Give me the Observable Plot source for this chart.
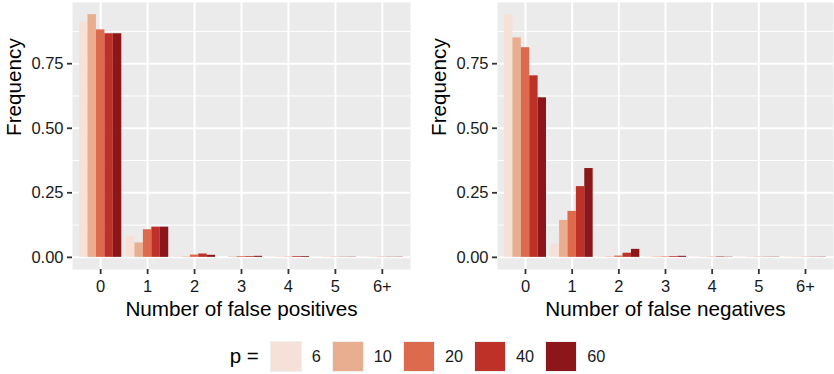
<!DOCTYPE html>
<html><head><meta charset="utf-8">
<script src="https://cdn.jsdelivr.net/npm/d3@7"></script>
<script src="https://cdn.jsdelivr.net/npm/@observablehq/plot@0.6"></script>
<style>
body{margin:0;background:#fff;font-family:"Liberation Sans",Arial,Helvetica,sans-serif;}
#charts{display:flex;height:330px;}
#legend{height:44px;padding-top:11px;box-sizing:border-box;}
#legend .row{display:flex;align-items:center;justify-content:center;height:30px;padding-left:12px;}
#legend .title{font-size:20.5px;margin-right:11px;line-height:20px;}
#legend .sw{width:30px;height:29px;border:1px solid #EFEFEF;margin-right:10px;}
#legend .lab{font-size:16.3px;margin-right:11px;line-height:16px;color:#1a1a1a;}
</style></head><body>
<div id="charts"></div>
<div id="legend"><div class="row"></div></div>
<script>
const categories = ["0", "1", "2", "3", "4", "5", "6+"];
const pValues = ["6", "10", "20", "40", "60"];
const colors = ["#F5E1D7", "#E9AE90", "#DE6A4E", "#BE3129", "#8C161A"];
const yTicks = [0, 0.25, 0.5, 0.75];
const yMinor = [0.125, 0.375, 0.625, 0.875];

// False positives: frequency per category, one array per p
const fpP6  = [0.910, 0.082, 0.005, 0.000, 0.001, 0.001, 0.001];
const fpP10 = [0.940, 0.056, 0.002, 0.002, 0.001, 0.001, 0.001];
const fpP20 = [0.881, 0.107, 0.009, 0.003, 0.001, 0.001, 0.001];
const fpP40 = [0.866, 0.117, 0.013, 0.003, 0.003, 0.001, 0.001];
const fpP60 = [0.866, 0.117, 0.008, 0.004, 0.003, 0.001, 0.001];

// False negatives
const fnP6  = [0.939, 0.052, 0.003, 0.002, 0.001, 0.001, 0.002];
const fnP10 = [0.850, 0.143, 0.002, 0.002, 0.001, 0.001, 0.001];
const fnP20 = [0.812, 0.178, 0.005, 0.002, 0.001, 0.001, 0.001];
const fnP40 = [0.703, 0.274, 0.016, 0.003, 0.002, 0.001, 0.001];
const fnP60 = [0.618, 0.344, 0.031, 0.004, 0.001, 0.001, 0.001];

const dodgeWidth = 0.9;
const barW = dodgeWidth / pValues.length;

function toRows(series) {
  return series.flatMap((vals, pi) => vals.map((v, ci) => ({ci, pi, p: pValues[pi], value: v})));
}

function panel(series, xTitle, width, marginRight) {
  const data = toRows(series);
  return Plot.plot({
    width, height: 330,
    marginTop: 2, marginBottom: 61, marginLeft: 72, marginRight,
    style: {fontFamily: '"Liberation Sans", Arial, sans-serif', background: "white"},
    x: {type: "linear", domain: [-0.6, categories.length - 0.4]},
    y: {domain: [-0.047, 0.987]},
    color: {domain: pValues, range: colors},
    marks: [
      Plot.frame({fill: "#EBEBEB", stroke: null}),
      Plot.gridY(yMinor, {stroke: "white", strokeOpacity: 1, strokeWidth: 1}),
      Plot.gridY(yTicks, {stroke: "white", strokeOpacity: 1, strokeWidth: 2}),
      Plot.gridX(d3.range(categories.length), {stroke: "white", strokeOpacity: 1, strokeWidth: 2}),
      Plot.rect(data, {
        x1: d => d.ci + (d.pi - (pValues.length - 1) / 2) * barW - barW / 2,
        x2: d => d.ci + (d.pi - (pValues.length - 1) / 2) * barW + barW / 2,
        y1: d => 0,
        y2: "value",
        fill: "p"
      }),
      Plot.axisY({ticks: yTicks, tickFormat: d3.format(".2f"), tickSize: 5, tickPadding: 4,
        fontSize: 16.5, stroke: "#333", fill: "#1a1a1a", strokeWidth: 1.8, label: null}),
      Plot.axisX({ticks: d3.range(categories.length), tickFormat: i => categories[i], tickSize: 5, tickPadding: 6,
        fontSize: 16.5, stroke: "#333", fill: "#1a1a1a", strokeWidth: 1.8, label: null}),
      Plot.text([xTitle], {frameAnchor: "bottom", dy: 46, fontSize: 20.7, fill: "black", lineAnchor: "bottom"}),
      Plot.text(["Frequency"], {frameAnchor: "left", rotate: -90, dx: -58, fontSize: 20.7, fill: "black"})
    ]
  });
}

const charts = document.getElementById("charts");
charts.append(panel([fpP6, fpP10, fpP20, fpP40, fpP60], "Number of false positives", 425, 15));
charts.append(panel([fnP6, fnP10, fnP20, fnP40, fnP60], "Number of false negatives", 409, 1));

const legend = d3.select("#legend .row");
legend.append("span").attr("class", "title").text("p =");
pValues.forEach((p, i) => {
  legend.append("div").attr("class", "sw").style("background", colors[i]);
  legend.append("span").attr("class", "lab").text(p);
});
</script>
</body></html>
